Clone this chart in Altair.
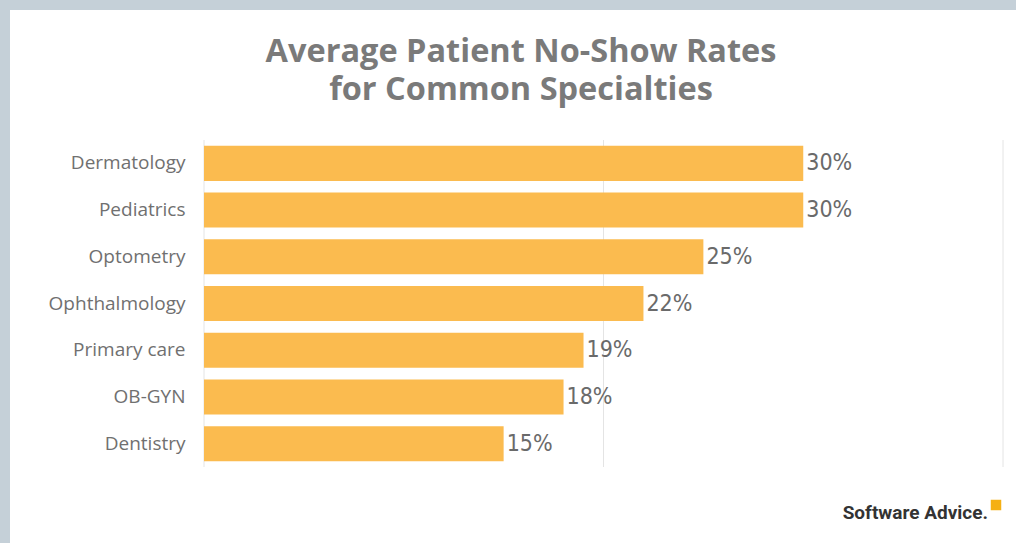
import altair as alt
import pandas as pd

specialties = ["Dermatology", "Pediatrics", "Optometry", "Ophthalmology",
               "Primary care", "OB-GYN", "Dentistry"]
rates = [30, 30, 25, 22, 19, 18, 15]
grid_ticks = [0, 20, 40]

title_lines = ["Average Patient No-Show Rates", "for Common Specialties"]
brand = "Software Advice."

W, H = 799, 327
PAD = {"left": 204, "top": 140, "right": 13, "bottom": 76}

df = pd.DataFrame({"specialty": specialties, "rate": rates})
grid_df = pd.DataFrame({"tick": grid_ticks})

xscale = alt.Scale(domain=[0, 40], nice=False, zero=True)
yscale = alt.Scale(paddingInner=0.25, paddingOuter=0.125)

card = alt.Chart(pd.DataFrame({"k": [0]})).mark_rect(color="white").encode(
    x=alt.value(-194), x2=alt.value(812), y=alt.value(-130), y2=alt.value(403)
)

title = alt.Chart(pd.DataFrame({"t": ["\n".join(title_lines)]})).mark_text(
    align="center", baseline="alphabetic", lineBreak="\n", lineHeight=38,
    font="Open Sans", fontWeight="bold", fontSize=32.5, color="#7a7a7a"
).encode(x=alt.value(317), y=alt.value(-78), text="t:N")

grid = alt.Chart(grid_df).mark_rule(color="#e4e4e4", strokeWidth=1).encode(
    x=alt.X("tick:Q", scale=xscale, axis=None),
    y=alt.value(0), y2=alt.value(H)
)

base = alt.Chart(df).encode(
    y=alt.Y("specialty:N", sort=specialties, scale=yscale, title=None,
            axis=alt.Axis(domain=False, ticks=False, tickSize=0, labelPadding=19,
                          labelFont="Open Sans", labelFontSize=19, labelColor="#707070",
                          zindex=1, grid=False)),
)

bars = base.mark_bar(color="#fbbb4f").encode(
    x=alt.X("rate:Q", scale=xscale, axis=None)
)

labels = base.transform_calculate(lbl="datum.rate + '%'").mark_text(
    align="left", baseline="middle", dx=3,
    font="Liberation Sans Narrow, DejaVu Sans Condensed, Roboto",
    fontSize=23, color="#6a6a6a"
).encode(
    x=alt.X("rate:Q", scale=xscale, axis=None),
    text="lbl:N"
)

logo_text = alt.Chart(pd.DataFrame({"t": [brand]})).mark_text(
    align="right", baseline="alphabetic", font="Roboto", fontWeight="bold",
    fontSize=19, color="#333333"
).encode(x=alt.value(784), y=alt.value(379), text="t:N")

logo_mark = alt.Chart(pd.DataFrame({"k": [0]})).mark_point(
    shape="square", filled=True, color="#f5b014", size=110, opacity=1
).encode(x=alt.value(792), y=alt.value(365))

chart = alt.layer(card, title, grid, bars, labels, logo_text, logo_mark).properties(
    width=W, height=H,
    autosize=alt.AutoSizeParams(type="none"),
    padding=PAD,
    background="#c5d0d8",
).configure_view(stroke=None)

chart.save("out.html", embed_options={"renderer": "svg", "actions": False})
